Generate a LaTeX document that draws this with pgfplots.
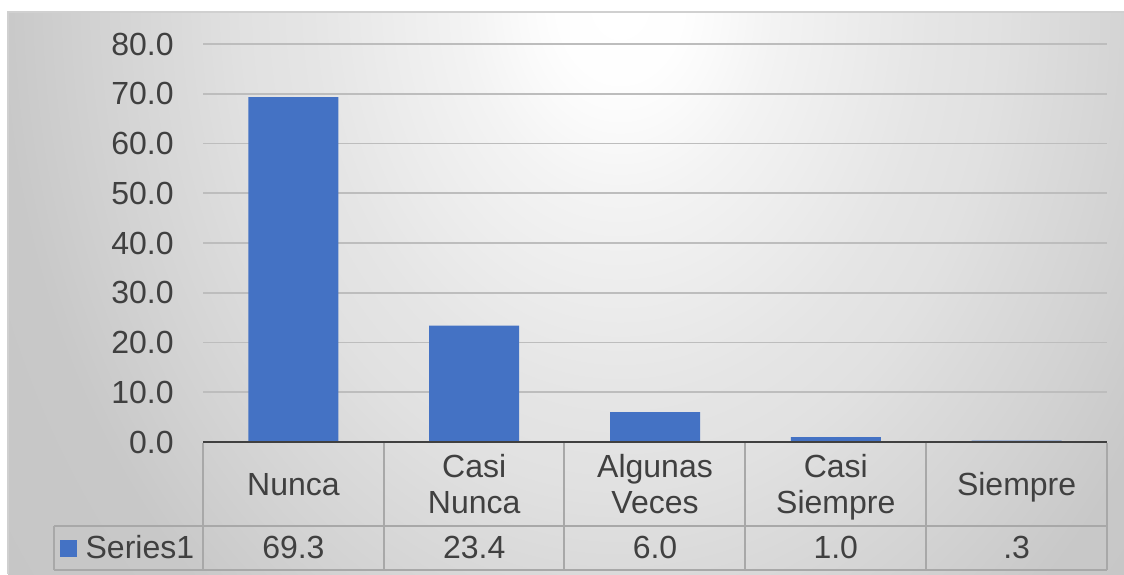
\documentclass[border=0pt]{standalone}
\usepackage{pgfplots}
\pgfplotsset{compat=1.18}
\usepackage{pgfplotstable}
\usepackage{fontspec}
\setmainfont{Liberation Sans}

\definecolor{barblue}{HTML}{4472C4}
\definecolor{txt}{HTML}{404040}
\definecolor{gridc}{HTML}{BDBDBD}
\definecolor{tablec}{HTML}{A8A8A8}
\definecolor{basec}{HTML}{404040}
\definecolor{framec}{HTML}{D0D0D0}
\definecolor{bg1}{HTML}{FEFEFE}
\definecolor{bg2}{HTML}{FAFAFA}
\definecolor{bg3}{HTML}{F3F3F3}
\definecolor{bg4}{HTML}{ECECEC}
\definecolor{bg5}{HTML}{E5E5E5}
\definecolor{bg6}{HTML}{E1E1E1}
\definecolor{bg7}{HTML}{DBDBDB}
\definecolor{bg8}{HTML}{D2D2D2}
\definecolor{bg9}{HTML}{C8C8C8}
\definecolor{bg10}{HTML}{C0C0C0}

% background glow; the shaded path's box spans the inner 50bp of the shading,
% the ellipse is twice the glow's reach so it covers the whole chart area
\pgfdeclareradialshading{chartbg}{\pgfpointorigin}{%
  color(0bp)=(white); color(1.25bp)=(bg1); color(2bp)=(bg2);
  color(3.125bp)=(bg3); color(4.7bp)=(bg4); color(6.25bp)=(bg5);
  color(7.6bp)=(bg6); color(8.75bp)=(bg7); color(10.6bp)=(bg8);
  color(12.5bp)=(bg9); color(25bp)=(bg10); color(50bp)=(bg10)}

% frequency (%) per answer
\pgfplotstableread{
x v
0 69.3
1 23.4
2 6.0
3 1.0
4 0.3
}\answers

\begin{document}
\begin{tikzpicture}
% page and chart area, laid out in pixel units (y downwards)
\begin{scope}[x=0.5pt,y=-0.5pt]
  \fill[white] (0,0) rectangle (1124,574);
  \begin{scope}
    \clip (8,12) rectangle (1124,574);
    \shade[shading=chartbg] (620,0) ellipse (1240 and 1600);
  \end{scope}
  \draw[framec, line width=0.6pt] (8,574) -- (8,12) -- (1124,12);
\end{scope}

\begin{axis}[
  at={(101.5pt,-221pt)}, anchor=south west,
  scale only axis, width=452pt, height=199pt,
  xmin=-0.5, xmax=4.5, ymin=0, ymax=80,
  ytick={0,10,...,80},
  xtick={0,1,2,3,4},
  xticklabels={\strut Nunca,{\strut Casi\\\strut Nunca},{\strut Algunas\\\strut Veces},
    {\strut Casi\\\strut Siempre},\strut Siempre},
  xticklabel style={anchor=center, yshift=-23.15pt, align=center, inner sep=0pt,
    font=\fontsize{16}{18}\selectfont, text=txt},
  yticklabel style={anchor=east, inner sep=0pt, xshift=-14.5pt,
    font=\fontsize{16}{18}\selectfont, text=txt},
  /pgf/number format/.cd, fixed, fixed zerofill, precision=1, assume math mode=true,
  /pgfplots/.cd,
  ymajorgrids, grid style={gridc, line width=0.9pt},
  axis line style={draw=none}, major tick length=0pt,
  clip=false,
  legend style={at={(axis description cs:-0.082,-0.2665)}, anchor=center,
    draw=none, fill=none, inner sep=0pt,
    font=\fontsize{16}{18}\selectfont, text=txt,
    nodes={inner sep=2pt}},
]
\addplot[ybar, bar shift=0pt, bar width=45pt, fill=barblue, draw=none,
  legend image code/.code={%
    \pgfpathrectangle{\pgfpoint{0pt}{-4.25pt}}{\pgfpoint{8.5pt}{8.5pt}}%
    \pgfsetfillcolor{barblue}\pgfusepath{fill}}]
  table[x=x, y=v] {\answers};
\addlegendentry{\hspace{2.5pt}Series1}

% values row of the data table
\addplot[draw=none, mark=none, forget plot,
  nodes near coords={\pgfmathprintnumber[fixed, fixed zerofill, precision=1,
    skip 0., assume math mode=true]{\pgfplotspointmeta}},
  point meta=explicit,
  every node near coord/.append style={anchor=center, text=txt,
    font=\fontsize{16}{18}\selectfont}]
  table[x=x, y expr=-21.3, meta=v] {\answers};

\draw[basec, line width=0.8pt] (axis cs:-0.5,0) -- (axis cs:4.5,0);
\end{axis}

% data table rules
\begin{scope}[x=0.5pt,y=-0.5pt, tablec, line width=1pt]
  \foreach \cx in {203,384,564,745,926,1107} \draw (\cx,443) -- (\cx,570);
  \draw (54,526) -- (1107,526);
  \draw (54,570) -- (1107,570);
  \draw (54,526) -- (54,570);
\end{scope}

\pgfresetboundingbox
\useasboundingbox (0,0) rectangle (562pt,-287pt);
\end{tikzpicture}
\end{document}
